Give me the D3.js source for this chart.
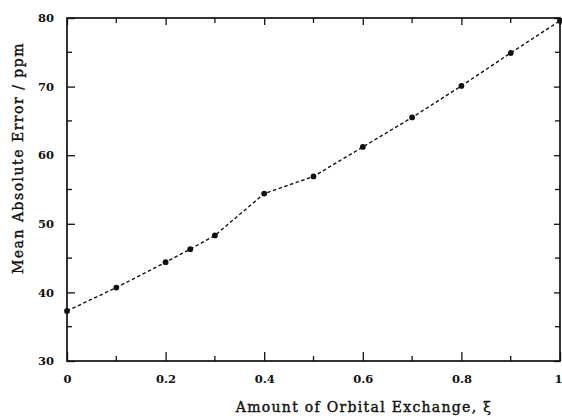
<!DOCTYPE html>
<html>
<head>
<meta charset="utf-8">
<script src="https://cdn.jsdelivr.net/npm/d3@7"></script>
<style>
  html, body { margin: 0; padding: 0; background: #fff; }
  svg { display: block; }
  text { font-family: "DejaVu Serif", "Liberation Serif", serif; fill: #111; }
</style>
</head>
<body>
<svg id="chart" width="562" height="420"></svg>
<script>
const xValues = [0, 0.1, 0.2, 0.25, 0.3, 0.4, 0.5, 0.6, 0.7, 0.8, 0.9, 1.0];
const maeValues = [37.3, 40.7, 44.4, 46.3, 48.3, 54.4, 56.9, 61.2, 65.5, 70.1, 74.9, 79.6];
const xTickLabels = [0, 0.2, 0.4, 0.6, 0.8, 1];
const yTickLabels = [30, 40, 50, 60, 70, 80];
const xMinorTicks = [0.1, 0.3, 0.5, 0.7, 0.9];
const yMinorTicks = [35, 45, 55, 65, 75];
const xTitle = "Amount of Orbital Exchange, \u03BE";
const yTitle = "Mean Absolute Error / ppm";

const svg = d3.select("#chart");
const pLeft = 67, pRight = 560, pTop = 18, pBottom = 361;
const x = d3.scaleLinear().domain([0, 1]).range([pLeft, pRight]);
const y = d3.scaleLinear().domain([30, 80]).range([pBottom, pTop]);
const ink = "#111";

// frame
svg.append("rect").attr("x", pLeft).attr("y", pTop)
  .attr("width", pRight - pLeft).attr("height", pBottom - pTop)
  .attr("fill", "none").attr("stroke", ink).attr("stroke-width", 1.7);

// bottom axis
const bx = svg.append("g").attr("transform", `translate(0,${pBottom})`)
  .call(d3.axisBottom(x).tickValues(xTickLabels).tickSize(-9).tickPadding(14)
    .tickFormat(d => d === 0 ? "0" : d === 1 ? "1" : d3.format(".1f")(d)));
bx.select(".domain").remove();
bx.selectAll("line").attr("stroke", ink).attr("stroke-width", 1.3);
bx.selectAll("text").attr("font-size", 11.5).attr("font-family", null).style("font-weight", "bold");
bx.selectAll(".tick").filter(d => d === 1).select("text")
  .attr("text-anchor", "end").attr("dx", 2);
bx.append("g").selectAll("line").data(xMinorTicks).join("line")
  .attr("x1", d => x(d)).attr("x2", d => x(d)).attr("y1", 0).attr("y2", -5)
  .attr("stroke", ink).attr("stroke-width", 1.3);

// top axis
const tx = svg.append("g").attr("transform", `translate(0,${pTop})`)
  .call(d3.axisTop(x).tickValues(xTickLabels).tickSize(-7).tickFormat(""));
tx.select(".domain").remove();
tx.selectAll("line").attr("stroke", ink).attr("stroke-width", 1.3);
tx.append("g").selectAll("line").data(xMinorTicks).join("line")
  .attr("x1", d => x(d)).attr("x2", d => x(d)).attr("y1", 0).attr("y2", 5)
  .attr("stroke", ink).attr("stroke-width", 1.3);

// left axis
const ly = svg.append("g").attr("transform", `translate(${pLeft},0)`)
  .call(d3.axisLeft(y).tickValues(yTickLabels).tickSize(-8).tickPadding(13));
ly.select(".domain").remove();
ly.selectAll("line").attr("stroke", ink).attr("stroke-width", 1.3);
ly.selectAll("text").attr("font-size", 11.5).attr("font-family", null).style("font-weight", "bold");
ly.append("g").selectAll("line").data(yMinorTicks).join("line")
  .attr("x1", 0).attr("x2", 5).attr("y1", d => y(d)).attr("y2", d => y(d))
  .attr("stroke", ink).attr("stroke-width", 1.3);

// right axis
const ry = svg.append("g").attr("transform", `translate(${pRight},0)`)
  .call(d3.axisRight(y).tickValues(yTickLabels).tickSize(-6).tickFormat(""));
ry.select(".domain").remove();
ry.selectAll("line").attr("stroke", ink).attr("stroke-width", 1.3);
ry.append("g").selectAll("line").data(yMinorTicks).join("line")
  .attr("x1", 0).attr("x2", -5).attr("y1", d => y(d)).attr("y2", d => y(d))
  .attr("stroke", ink).attr("stroke-width", 1.3);

// data line
const pts = xValues.map((v, i) => [v, maeValues[i]]);
svg.append("path").datum(pts)
  .attr("fill", "none").attr("stroke", ink).attr("stroke-width", 1.4)
  .attr("stroke-dasharray", "3.5,2.5")
  .attr("d", d3.line().x(d => x(d[0])).y(d => y(d[1])));
svg.append("g").selectAll("circle").data(pts).join("circle")
  .attr("cx", d => x(d[0])).attr("cy", d => y(d[1])).attr("r", 2.9).attr("fill", ink);

// titles
svg.append("text").attr("x", 364).attr("y", 412).attr("text-anchor", "middle")
  .attr("font-size", 14).style("font-weight", "normal")
  .attr("stroke", ink).attr("stroke-width", 0.4)
  .attr("letter-spacing", 1.3).text(xTitle);
svg.append("text").attr("transform", "translate(23,158) rotate(-90)")
  .attr("text-anchor", "middle").attr("font-size", 14).style("font-weight", "normal")
  .attr("stroke", ink).attr("stroke-width", 0.4)
  .attr("letter-spacing", 1.5).text(yTitle);
</script>
</body>
</html>
